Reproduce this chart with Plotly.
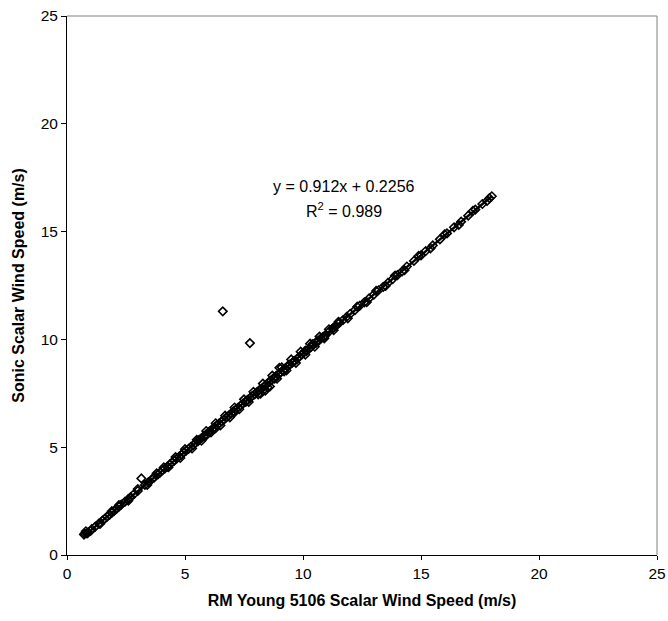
import plotly.graph_objects as go

# RM Young 5106 scalar wind speed (m/s)
rm_young = [
    0.72, 0.75, 0.8, 0.85, 0.9, 1.0, 1.05, 1.2, 1.35, 1.5, 1.6, 1.7, 1.8, 1.9, 2.0,
    2.1, 2.2, 2.3, 2.45, 2.6, 2.7, 2.85, 3.0, 3.15, 3.3, 3.45, 3.6, 3.7, 3.85, 3.95,
    4.05, 4.15, 4.25, 4.35, 4.45, 4.55, 4.65, 4.75, 4.85, 4.95, 5.05, 5.15, 5.25,
    5.35, 5.45, 5.55, 5.6, 5.7, 5.8, 5.9, 6.0, 6.05, 6.15, 6.25, 6.35, 6.45, 6.6,
    6.55, 6.65, 6.75, 6.85, 6.95, 7.05, 7.15, 7.25, 7.35, 7.45, 7.55, 7.65, 7.75,
    7.75, 7.85, 7.95, 8.05, 8.15, 8.25, 8.35, 8.45, 8.4, 8.55, 8.65, 8.75, 8.85,
    8.95, 9.05, 9.15, 9.25, 9.35, 9.45, 9.55, 9.65, 9.75, 9.85, 9.95, 10.05, 10.15,
    10.25, 10.35, 10.45, 10.55, 10.65, 10.75, 10.85, 10.95, 11.1, 11.25, 11.4, 11.55,
    11.7, 11.85, 12.0, 12.2, 12.4, 12.6, 12.8, 13.0, 13.2, 13.4, 13.6, 13.8, 14.0,
    14.2, 14.4, 14.7, 15.0, 15.2, 15.5, 15.8, 16.1, 16.4, 16.7, 17.0, 17.3, 17.6,
    17.9, 18.0,
    9.2, 9.6, 10.1, 10.6, 8.3, 8.8, 7.1, 7.6, 6.3, 5.9, 10.9, 11.3, 9.4, 10.4,
    4.1, 4.3, 4.6, 4.8, 5.0, 5.3, 5.5, 5.7, 5.9, 6.1, 6.3, 6.5, 6.7, 6.9, 7.1,
    7.3, 7.5, 7.7, 7.9, 8.1, 8.3, 8.5, 8.7, 8.9, 9.1, 9.3, 9.5, 9.7, 9.9, 10.1,
    10.3, 10.5, 10.7, 10.9, 11.1, 11.3, 11.5, 11.9, 12.3, 12.7, 13.1, 13.5, 13.9,
    14.3, 14.9, 15.4, 16.0, 16.6, 17.2, 17.8, 2.2, 2.6, 3.0, 3.4, 3.8, 1.4, 1.9,
    8.6, 9.0, 8.2,
]

# Sonic scalar wind speed (m/s)
sonic = [
    0.95, 1.0, 1.1, 1.0, 1.05, 1.12, 1.2, 1.32, 1.46, 1.6, 1.68, 1.78, 1.86, 1.96, 2.05,
    2.14, 2.24, 2.34, 2.46, 2.6, 2.68, 2.84, 2.97, 3.55, 3.25, 3.38, 3.52, 3.6, 3.74, 3.83,
    3.94, 4.02, 4.1, 4.2, 4.3, 4.38, 4.48, 4.56, 4.65, 4.76, 4.84, 4.92, 5.02,
    5.1, 5.2, 5.28, 5.34, 5.42, 5.52, 5.6, 5.7, 5.74, 5.84, 5.92, 6.02, 6.1, 11.3,
    6.2, 6.28, 6.38, 6.46, 6.56, 6.66, 6.74, 6.84, 6.92, 7.02, 7.1, 7.2, 7.28,
    9.83, 7.38, 7.45, 7.55, 7.65, 7.72, 7.82, 7.9, 7.62, 8.02, 8.1, 8.2, 8.3,
    8.38, 8.46, 8.56, 8.66, 8.74, 8.84, 8.92, 9.0, 9.1, 9.2, 9.3, 9.4, 9.46,
    9.56, 9.66, 9.76, 9.84, 9.92, 10.04, 10.12, 10.2, 10.36, 10.5, 10.62, 10.78,
    10.9, 11.04, 11.18, 11.36, 11.56, 11.72, 11.9, 12.08, 12.28, 12.44, 12.62, 12.8, 12.98,
    13.16, 13.38, 13.64, 13.9, 14.1, 14.36, 14.64, 14.92, 15.2, 15.46, 15.74, 16.02, 16.28,
    16.55, 16.64,
    8.52, 8.98, 9.48, 9.92, 7.62, 8.18, 6.62, 7.12, 5.88, 5.55, 10.12, 10.55, 8.82, 9.78,
    4.06, 4.07, 4.54, 4.50, 4.91, 4.94, 5.34, 5.30, 5.75, 5.69, 6.11, 6.01, 6.46, 6.38, 6.84,
    6.76, 7.22, 7.10, 7.57, 7.45, 7.95, 7.78, 8.32, 8.18, 8.70, 8.56, 9.07, 8.91, 9.43, 9.29,
    9.80, 9.66, 10.13, 10.05, 10.47, 10.43, 10.81, 10.98, 11.52, 11.73, 12.25, 12.48, 12.96,
    13.21, 13.87, 14.22, 14.87, 15.31, 15.96, 16.42, 2.31, 2.52, 3.06, 3.25, 3.79, 1.44, 2.03,
    7.82, 8.68, 7.48,
]

slope = 0.912
intercept = 0.2256
fit_x = [min(rm_young), max(rm_young)]
fit_y = [slope * v + intercept for v in fit_x]

fig = go.Figure()
fig.add_trace(go.Scatter(
    x=rm_young, y=sonic, mode="markers",
    marker=dict(symbol="diamond-open", size=6.5, color="black", line=dict(width=1.6, color="black")),
    showlegend=False, cliponaxis=False,
))
fig.add_trace(go.Scatter(
    x=fit_x, y=fit_y, mode="lines",
    line=dict(color="black", width=2.4), showlegend=False,
))

font_family = "Liberation Sans, Arial, sans-serif"

fig.update_layout(
    width=668, height=621,
    margin=dict(l=67, r=11, t=16, b=66),
    plot_bgcolor="white", paper_bgcolor="white",
    font=dict(family=font_family, size=15.5, color="black"),
    xaxis=dict(
        range=[0, 25], tickvals=[0, 5, 10, 15, 20, 25], showgrid=False, zeroline=False,
        showline=True, linecolor="black", linewidth=1, ticks="outside", ticklen=4,
        tickcolor="black", tickfont=dict(size=15.5), ticklabeloverflow="allow",
        automargin=False,
        title=dict(text="<b>RM Young 5106 Scalar Wind Speed (m/s)</b>", font=dict(size=16), standoff=14),
    ),
    yaxis=dict(
        range=[0, 25], tickvals=[0, 5, 10, 15, 20, 25], showgrid=False, zeroline=False,
        showline=True, linecolor="black", linewidth=1, ticks="outside", ticklen=5,
        tickcolor="black", tickfont=dict(size=15.5), ticklabeloverflow="allow",
        automargin=False,
        title=dict(text="<b>Sonic Scalar Wind Speed (m/s)</b>", font=dict(size=16), standoff=12),
    ),
    shapes=[
        dict(type="line", xref="paper", yref="paper", x0=0, x1=1, y0=1, y1=1,
             line=dict(color="#808080", width=1)),
        dict(type="line", xref="paper", yref="paper", x0=1, x1=1, y0=0, y1=1,
             line=dict(color="#808080", width=1)),
    ],
    annotations=[
        dict(text="y = 0.912x + 0.2256", x=11.74, y=17.1, xref="x", yref="y",
             showarrow=False, font=dict(size=16, family=font_family)),
        dict(text="R<sup>2</sup> = 0.989", x=11.74, y=16.0, xref="x", yref="y",
             showarrow=False, font=dict(size=16, family=font_family)),
    ],
)

fig.write_html(
    "out.html",
    config={"displayModeBar": False},
    post_script="document.body.style.margin='0px';document.body.style.overflow='hidden';",
)
